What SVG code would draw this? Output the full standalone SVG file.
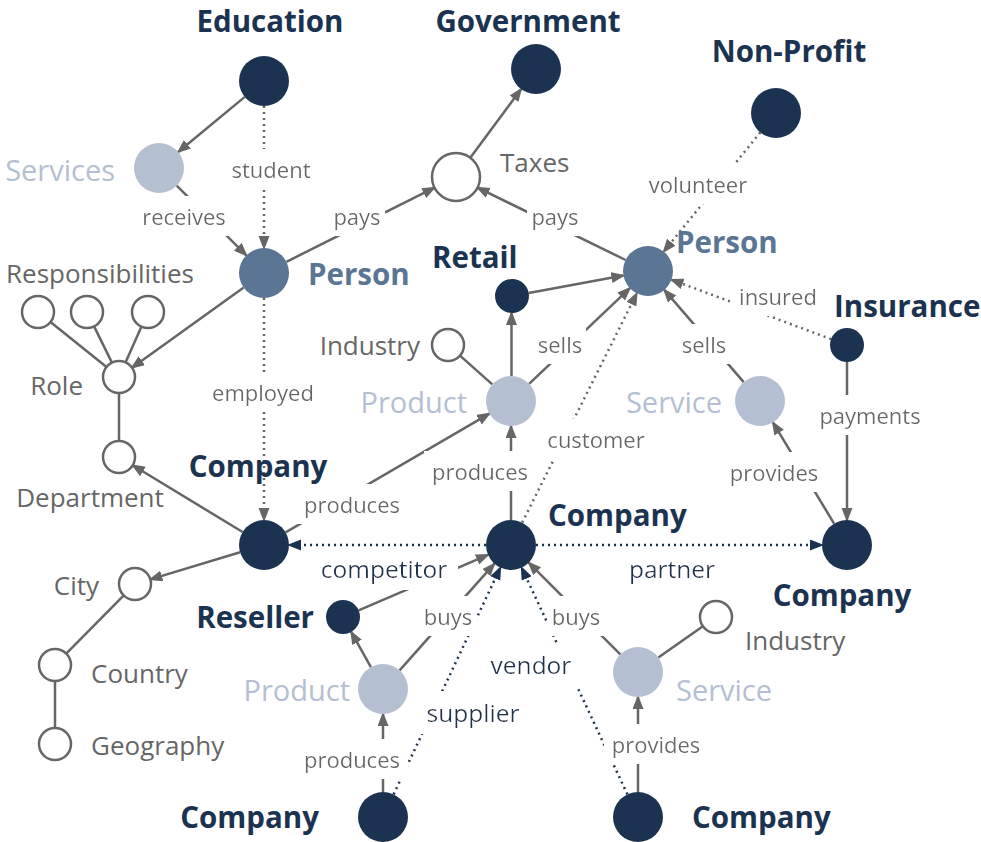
<svg xmlns="http://www.w3.org/2000/svg" width="981" height="842" viewBox="0 0 981 842">
<defs>
<style>
.e{stroke:#666;stroke-width:2.5;fill:none;marker-end:url(#ag)}
.p{stroke:#666;stroke-width:2.5;fill:none}
.ed{stroke:#666;stroke-width:2.5;fill:none;stroke-dasharray:2 4;marker-end:url(#ag)}
.dd{stroke:#1b3350;stroke-width:2.5;fill:none;stroke-dasharray:2 4;marker-end:url(#ad)}
.dark{fill:#1b3350}
.per{fill:#5b7594}
.lt{fill:#b4c0d1}
.hol{fill:#fff;stroke:#666;stroke-width:2.5}
text{font-family:"Open Sans","Noto Sans",sans-serif}
.lb{font-size:29.5px;font-weight:700;fill:#1b3350}
.lp{font-size:29.5px;font-weight:700;fill:#5b7594}
.ll{font-size:29px;fill:#b4c0d1}
.lg{font-size:26px;fill:#666}
.el{font-size:22px;fill:#666;text-anchor:middle;filter:url(#bg)}
.eld{font-size:24.5px;fill:#1b3350;text-anchor:middle;filter:url(#bg)}
</style>
<filter id="bg" x="-0.08" y="-0.15" width="1.16" height="1.3"><feFlood flood-color="#fff"/><feComposite in="SourceGraphic"/></filter>
<marker id="ag" markerUnits="userSpaceOnUse" markerWidth="16" markerHeight="12" refX="12" refY="5.5" orient="auto"><path d="M0,0 L14,5.5 L0,11 z" fill="#666"/></marker>
<marker id="ad" markerUnits="userSpaceOnUse" markerWidth="16" markerHeight="12" refX="12" refY="5.5" orient="auto"><path d="M0,0 L14,5.5 L0,11 z" fill="#1b3350"/></marker>
</defs>
<rect width="981" height="842" fill="#fff"/>
<g id="connectors">
<line class="e" x1="244.8" y1="96.9" x2="178.2" y2="152"/>
<line class="ed" x1="264" y1="106" x2="264" y2="248"/>
<line class="e" x1="176.7" y1="185.7" x2="246.3" y2="255.3"/>
<line class="e" x1="286.4" y1="261.8" x2="434.5" y2="187.7"/>
<line class="e" x1="625.6" y1="260" x2="477.5" y2="187.6"/>
<line class="e" x1="470.3" y1="157.7" x2="521.1" y2="89.1"/>
<line class="ed" x1="760.3" y1="132.4" x2="663.7" y2="251.6"/>
<line class="ed" x1="831.1" y1="339.1" x2="671.4" y2="279.7"/>
<line class="e" x1="528.7" y1="292.9" x2="623.4" y2="275.5"/>
<line class="e" x1="511.5" y1="376" x2="511.5" y2="313"/>
<line class="e" x1="529.1" y1="383.8" x2="629.9" y2="288.2"/>
<line class="e" x1="743.7" y1="382.1" x2="664.3" y2="289.9"/>
<line class="p" x1="492.3" y1="384.4" x2="460" y2="355.6"/>
<line class="e" x1="511" y1="520" x2="511" y2="426"/>
<line class="ed" x1="522.2" y1="522.6" x2="636.8" y2="293.4"/>
<line class="e" x1="285.6" y1="532.4" x2="489.4" y2="413.6"/>
<line class="e" x1="834.1" y1="523.6" x2="772.9" y2="422.4"/>
<line class="e" x1="847" y1="362" x2="847" y2="520"/>
<line class="dd" x1="486" y1="545" x2="289" y2="545"/>
<line class="dd" x1="536" y1="545" x2="822" y2="545"/>
<line class="e" x1="243.7" y1="287.6" x2="132" y2="367.7"/>
<line class="ed" x1="264" y1="298" x2="264" y2="520"/>
<line class="p" x1="106.5" y1="367" x2="50.5" y2="322"/>
<line class="p" x1="111.9" y1="362.6" x2="94.1" y2="326.4"/>
<line class="p" x1="125.5" y1="362.4" x2="141.5" y2="326.6"/>
<line class="p" x1="119" y1="393" x2="119" y2="441"/>
<line class="e" x1="242.6" y1="532" x2="132.7" y2="465.3"/>
<line class="e" x1="240.1" y1="552.2" x2="150.3" y2="579.4"/>
<line class="p" x1="123.8" y1="595.4" x2="66.2" y2="653.6"/>
<line class="p" x1="55" y1="681" x2="55" y2="728"/>
<line class="e" x1="358.6" y1="610.3" x2="488" y2="554.8"/>
<line class="e" x1="370.9" y1="667.2" x2="351.2" y2="631.9"/>
<line class="e" x1="399.6" y1="670.3" x2="494.4" y2="563.7"/>
<line class="e" x1="383" y1="792" x2="383" y2="714"/>
<line class="dd" x1="393.6" y1="794.4" x2="500.4" y2="567.6"/>
<line class="dd" x1="627.4" y1="794.4" x2="521.6" y2="567.6"/>
<line class="e" x1="620.3" y1="654.3" x2="528.7" y2="562.7"/>
<line class="p" x1="658.4" y1="657.6" x2="702.9" y2="626.2"/>
<line class="e" x1="638" y1="792" x2="638" y2="697"/>
</g>
<g id="edge-labels">
<text class="el" x="271" y="178">student</text>
<text class="el" x="184" y="225">receives</text>
<text class="el" x="357" y="225">pays</text>
<text class="el" x="555" y="225">pays</text>
<text class="el" x="698" y="193">volunteer</text>
<text class="el" x="778" y="305">insured</text>
<text class="el" x="560" y="353">sells</text>
<text class="el" x="704" y="353">sells</text>
<text class="el" x="263" y="401">employed</text>
<text class="el" x="596" y="448">customer</text>
<text class="el" x="480" y="480">produces</text>
<text class="el" x="774" y="481">provides</text>
<text class="el" x="870" y="424">payments</text>
<text class="el" x="352" y="513">produces</text>
<text class="eld" x="384" y="578">competitor</text>
<text class="eld" x="672" y="578">partner</text>
<text class="el" x="448" y="625">buys</text>
<text class="el" x="576" y="625">buys</text>
<text class="eld" x="531" y="674">vendor</text>
<text class="eld" x="473" y="722">supplier</text>
<text class="el" x="352" y="768">produces</text>
<text class="el" x="656" y="753">provides</text>
</g>
<g id="education"><circle class="dark" cx="264" cy="81" r="25"/><text class="lb" x="270" y="31.5" text-anchor="middle">Education</text></g>
<g id="government"><circle class="dark" cx="536" cy="69" r="25"/><text class="lb" x="528" y="31.5" text-anchor="middle">Government</text></g>
<g id="non-profit"><circle class="dark" cx="776" cy="113" r="25"/><text class="lb" x="789" y="62" text-anchor="middle">Non-Profit</text></g>
<g id="taxes"><circle class="hol" cx="456" cy="177" r="24"/><text class="lg" x="500" y="172">Taxes</text></g>
<g id="services"><circle class="lt" cx="159" cy="168" r="25"/><text class="ll" x="115" y="181" text-anchor="end">Services</text></g>
<g id="person-left"><circle class="per" cx="264" cy="273" r="25"/><text class="lp" x="308" y="285">Person</text></g>
<g id="person-right"><circle class="per" cx="648" cy="271" r="25"/><text class="lp" x="676" y="253">Person</text></g>
<g id="retail"><circle class="dark" cx="512" cy="296" r="17"/><text class="lb" x="432" y="268">Retail</text></g>
<g id="industry-top"><circle class="hol" cx="448" cy="345" r="16"/><text class="lg" x="420" y="355" text-anchor="end">Industry</text></g>
<g id="product-top"><circle class="lt" cx="511" cy="401" r="25"/><text class="ll" x="467" y="413" text-anchor="end">Product</text></g>
<g id="service-top"><circle class="lt" cx="760" cy="401" r="25"/><text class="ll" x="722" y="413" text-anchor="end">Service</text></g>
<g id="insurance"><circle class="dark" cx="847" cy="345" r="17"/><text class="lb" x="834" y="317">Insurance</text></g>
<g id="company-right"><circle class="dark" cx="847" cy="545" r="25"/><text class="lb" x="842" y="606" text-anchor="middle">Company</text></g>
<g id="company-center"><circle class="dark" cx="511" cy="545" r="25"/><text class="lb" x="548" y="526">Company</text></g>
<g id="company-left"><circle class="dark" cx="264" cy="545" r="25"/><text class="lb" x="258" y="477" text-anchor="middle">Company</text></g>
<g id="responsibilities"><circle class="hol" cx="38" cy="312" r="16"/><circle class="hol" cx="87" cy="312" r="16"/><circle class="hol" cx="148" cy="312" r="16"/><text class="lg" x="6" y="283">Responsibilities</text></g>
<g id="role"><circle class="hol" cx="119" cy="377" r="16"/><text class="lg" x="83" y="395" text-anchor="end">Role</text></g>
<g id="department"><circle class="hol" cx="119" cy="457" r="16"/><text class="lg" x="90" y="507" text-anchor="middle">Department</text></g>
<g id="city"><circle class="hol" cx="135" cy="584" r="16"/><text class="lg" x="99" y="595" text-anchor="end">City</text></g>
<g id="country"><circle class="hol" cx="55" cy="665" r="16"/><text class="lg" x="91" y="683">Country</text></g>
<g id="geography"><circle class="hol" cx="55" cy="744" r="16"/><text class="lg" x="91" y="755">Geography</text></g>
<g id="reseller"><circle class="dark" cx="343" cy="617" r="17"/><text class="lb" x="314" y="628" text-anchor="end">Reseller</text></g>
<g id="product-bottom"><circle class="lt" cx="383" cy="689" r="25"/><text class="ll" x="350" y="701" text-anchor="end">Product</text></g>
<g id="service-bottom"><circle class="lt" cx="638" cy="672" r="25"/><text class="ll" x="676" y="701">Service</text></g>
<g id="industry-bottom"><circle class="hol" cx="716" cy="617" r="16"/><text class="lg" x="745" y="650">Industry</text></g>
<g id="company-bottom-left"><circle class="dark" cx="383" cy="817" r="25"/><text class="lb" x="319" y="828" text-anchor="end">Company</text></g>
<g id="company-bottom-right"><circle class="dark" cx="638" cy="817" r="25"/><text class="lb" x="692" y="828">Company</text></g>
</svg>
